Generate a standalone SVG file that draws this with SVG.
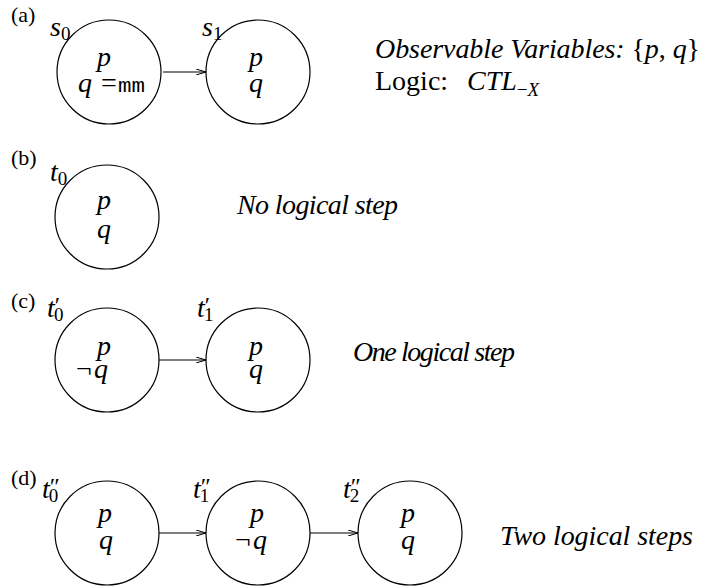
<svg xmlns="http://www.w3.org/2000/svg" width="705" height="587" viewBox="0 0 705 587" font-family="Liberation Serif, Times New Roman, serif">
<defs>
<marker id="arr" viewBox="0 0 10 6" refX="10" refY="3" markerWidth="10" markerHeight="6" markerUnits="userSpaceOnUse" orient="auto">
<path d="M0,0 L10,3 L0,6" fill="none" stroke="#000" stroke-width="1"/>
</marker>
<style>
.n{fill:none;stroke:#000;stroke-width:1.2}
.e{stroke:#000;stroke-width:1.2;fill:none;marker-end:url(#arr)}
.m{font-style:italic;font-size:28px}
.r{font-size:28px}
.s{font-size:19px;font-style:normal}
.pr{font-size:24px;font-style:normal}
.lab{font-size:22px}
.tt{font-family:Liberation Mono,monospace;font-size:21px}
.c{text-anchor:middle}
</style>
</defs>
<rect width="705" height="587" fill="#fff"/>

<g id="labels">
<text class="lab" x="11" y="22">(a)</text>
<text class="lab" x="11" y="165">(b)</text>
<text class="lab" x="11" y="308">(c)</text>
<text class="lab" x="11" y="485">(d)</text>
</g>

<g id="s0">
<circle class="n" cx="109" cy="72" r="52"/>
<text class="m" x="50" y="36">s<tspan class="s" dy="4">0</tspan></text>
<text class="m c" x="104" y="66">p</text>
<text class="m" x="78" y="92">q</text>
<text class="r" x="101" y="92">=</text>
<text class="tt" x="118" y="92" textLength="27" lengthAdjust="spacingAndGlyphs">mm</text>
</g>
<g id="s1">
<circle class="n" cx="258" cy="72" r="52"/>
<text class="m" x="202" y="36">s<tspan class="s" dy="4">1</tspan></text>
<text class="m c" x="256" y="66">p</text>
<text class="m c" x="256" y="92">q</text>
</g>
<g id="info">
<text class="m" x="375" y="58" textLength="325" lengthAdjust="spacing">Observable Variables: <tspan font-style="normal">{</tspan>p<tspan font-style="normal">, </tspan>q<tspan font-style="normal">}</tspan></text>
<text class="r" x="375" y="90">Logic: <tspan font-style="italic" x="467">CTL</tspan><tspan class="s" dy="6">−<tspan font-style="italic">X</tspan></tspan></text>
</g>

<g id="t0">
<circle class="n" cx="107" cy="217" r="52"/>
<text class="m" x="50" y="181">t<tspan class="s" dy="4">0</tspan></text>
<text class="m c" x="104" y="209">p</text>
<text class="m c" x="104" y="238">q</text>
</g>
<text class="m" x="237" y="214" textLength="161" lengthAdjust="spacing">No logical step</text>

<g id="t0p">
<circle class="n" cx="107" cy="360" r="52"/>
<text class="m" x="47" y="317">t<tspan class="pr" dy="-4">′</tspan><tspan class="s" dx="-6" dy="8">0</tspan></text>
<text class="m c" x="104" y="355">p</text>
<text class="r" x="76" y="378">¬<tspan font-style="italic" x="94">q</tspan></text>
</g>
<g id="t1p">
<circle class="n" cx="258" cy="360" r="52"/>
<text class="m" x="197" y="317">t<tspan class="pr" dy="-4">′</tspan><tspan class="s" dx="-6" dy="8">1</tspan></text>
<text class="m c" x="256" y="355">p</text>
<text class="m c" x="256" y="378">q</text>
</g>
<text class="m" x="353" y="361" textLength="162" lengthAdjust="spacing">One logical step</text>

<g id="t0pp">
<circle class="n" cx="107" cy="533" r="52"/>
<text class="m" x="42" y="498">t<tspan class="pr" dy="-4">″</tspan><tspan class="s" dx="-11" dy="8">0</tspan></text>
<text class="m c" x="105" y="522">p</text>
<text class="m c" x="106" y="549">q</text>
</g>
<g id="t1pp">
<circle class="n" cx="258" cy="533" r="52"/>
<text class="m" x="193" y="498">t<tspan class="pr" dy="-4">″</tspan><tspan class="s" dx="-11" dy="8">1</tspan></text>
<text class="m c" x="257" y="522">p</text>
<text class="r" x="235" y="549">¬<tspan font-style="italic" x="253">q</tspan></text>
</g>
<g id="t2pp">
<circle class="n" cx="410" cy="533" r="52"/>
<text class="m" x="343" y="498">t<tspan class="pr" dy="-4">″</tspan><tspan class="s" dx="-11" dy="8">2</tspan></text>
<text class="m c" x="408" y="522">p</text>
<text class="m c" x="408" y="549">q</text>
</g>
<text class="m" x="500" y="545" textLength="193" lengthAdjust="spacing">Two logical steps</text>

<g id="connectors">
<line class="e" x1="163" y1="72" x2="206" y2="72"/>
<line class="e" x1="159" y1="360" x2="206" y2="360"/>
<line class="e" x1="159" y1="533" x2="206" y2="533"/>
<line class="e" x1="310" y1="533" x2="358" y2="533"/>
</g>
</svg>
